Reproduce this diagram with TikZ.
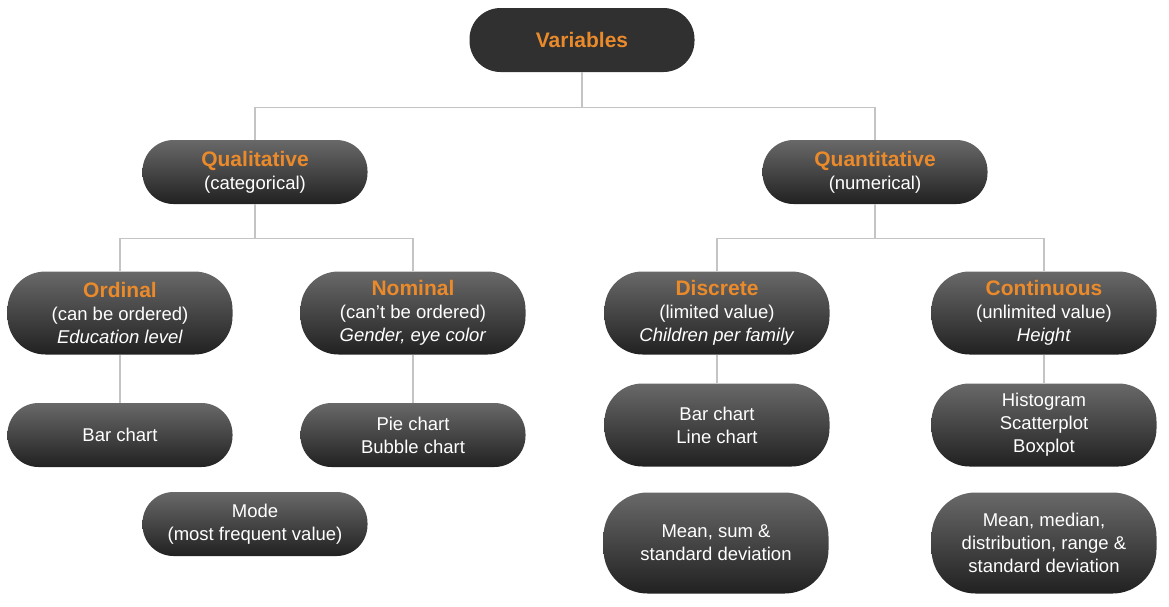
\documentclass[tikz,border=0pt]{standalone}
\usepackage{fontspec}
\setmainfont{Liberation Sans}

\definecolor{varorange}{RGB}{234,138,42}
\definecolor{linkgray}{RGB}{196,196,196}

\newcommand\vtitle[1]{{\fontsize{21}{23.5}\selectfont\bfseries\textcolor{varorange}{#1}}}

\tikzset{
pill/.style={
  minimum width=225pt,
  minimum height=64pt,
  inner sep=2pt,
  rounded corners=31pt,
  align=center,
  text=white,
  font=\fontsize{18.5}{23}\selectfont,
},
vnode/.style={pill, top color=black!59, bottom color=black!87},
rootnode/.style={pill, fill=black!81},
tall/.style={vnode, minimum height=83pt, rounded corners=38pt},
taller/.style={vnode, minimum height=101pt, rounded corners=44pt},
link/.style={draw=linkgray, line width=1.2pt},
}

\begin{document}
\begin{tikzpicture}[x=1pt,y=-1pt]
\useasboundingbox (0,0) rectangle (1169,606);
                  % level 0
\node[rootnode] (var) at (582,40) {\vtitle{Variables}};
                  % level 1
\node[vnode] (qual) at (255,172) {\vtitle{Qualitative}\\(categorical)};
\node[vnode] (quan) at (875,172) {\vtitle{Quantitative}\\(numerical)};
                  % level 2
\node[tall] (ord)  at (120,313)  {\vtitle{Ordinal}\\(can be ordered)\\\textit{Education level}};
\node[tall] (nom)  at (413,313)  {\vtitle{Nominal}\\(can't be ordered)\\\textit{Gender, eye color}};
\node[tall] (disc) at (717,313)  {\vtitle{Discrete}\\(limited value)\\\textit{Children per family}};
\node[tall] (cont) at (1044,313) {\vtitle{Continuous}\\(unlimited value)\\\textit{Height}};
                  % charts
\node[vnode] (ord-chart)  at (120,435)  {Bar chart};
\node[vnode] (nom-chart)  at (413,435)  {Pie chart\\Bubble chart};
\node[tall]  (disc-chart) at (717,425)  {Bar chart\\Line chart};
\node[tall]  (cont-chart) at (1044,425) {Histogram\\Scatterplot\\Boxplot};
                  % measures
\node[vnode]  (qual-stat) at (255,524)  {Mode\\(most frequent value)};
\node[taller] (disc-stat) at (716,543)  {Mean, sum \&\\standard deviation};
\node[taller] (cont-stat) at (1044,543) {Mean, median,\\distribution, range \&\\standard deviation};

% connectors
\draw[link] (var.south) -- ++(0,35) coordinate (var-j);
\draw[link] (var-j) -| (qual.north);
\draw[link] (var-j) -| (quan.north);
\draw[link] (qual.south) -- ++(0,34) coordinate (qual-j);
\draw[link] (qual-j) -| (ord.north);
\draw[link] (qual-j) -| (nom.north);
\draw[link] (quan.south) -- ++(0,34) coordinate (quan-j);
\draw[link] (quan-j) -| (disc.north);
\draw[link] (quan-j) -| (cont.north);
\draw[link] (ord.south) -- (ord-chart.north);
\draw[link] (nom.south) -- (nom-chart.north);
\draw[link] (disc.south) -- (disc-chart.north);
\draw[link] (cont.south) -- (cont-chart.north);
\end{tikzpicture}
\end{document}
